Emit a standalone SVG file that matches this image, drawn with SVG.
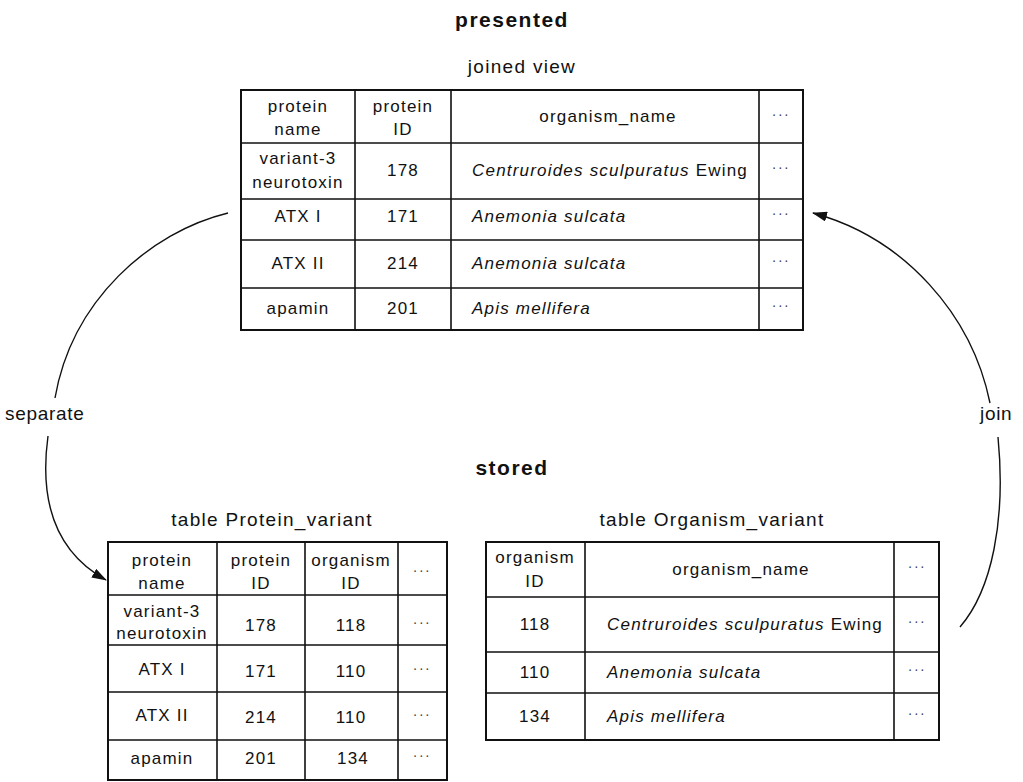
<svg xmlns="http://www.w3.org/2000/svg" width="1023" height="782" viewBox="0 0 1023 782">
  <defs>
    <marker id="arrow" viewBox="0 0 15 10" refX="14" refY="5" markerWidth="15" markerHeight="10" markerUnits="userSpaceOnUse" orient="auto">
      <path d="M0,0 L15,5 L0,10 Z" fill="#111"/>
    </marker>
    <style>
      text { font-family: "Liberation Sans", Arial, sans-serif; fill: #111; }
      .head { font-size: 21px; font-weight: bold; letter-spacing: 1.5px; text-anchor: middle; }
      .title { font-size: 19px; letter-spacing: 1.3px; text-anchor: middle; }
      .cell { font-size: 17px; letter-spacing: 1.2px; text-anchor: middle; }
      .sp { font-size: 17px; letter-spacing: 1.2px; text-anchor: start; }
      .it { font-style: italic; }
      .dots { font-size: 14px; letter-spacing: 1.5px; text-anchor: middle; fill: #444; }
      .label { font-size: 19px; letter-spacing: 0.7px; }
      .frame { fill: #fff; stroke: #111; stroke-width: 2; }
      .grid { stroke: #111; stroke-width: 1.6; fill: none; }
      .conn { fill: none; stroke: #111; stroke-width: 1.4; }
    </style>
  </defs>

  <rect width="1023" height="782" fill="#fff"/>

  <!-- section headings -->
  <text class="head" x="512" y="27">presented</text>
  <text class="head" x="512" y="475">stored</text>

  <!-- joined view -->
  <g id="joined-view">
    <text class="title" x="522" y="73">joined view</text>
    <rect class="frame" x="241" y="90" width="562" height="240"/>
    <path class="grid" d="M355,90 V330 M451,90 V330 M759,90 V330 M241,143 H803 M241,199 H803 M241,240 H803 M241,288 H803"/>
    <text class="cell" x="298" y="112">protein</text>
    <text class="cell" x="298" y="135">name</text>
    <text class="cell" x="403" y="112">protein</text>
    <text class="cell" x="403" y="135">ID</text>
    <text class="cell" x="608" y="122">organism_name</text>
    <text class="dots" x="781" y="119">···</text>

    <text class="cell" x="298" y="164">variant-3</text>
    <text class="cell" x="298" y="188">neurotoxin</text>
    <text class="cell" x="403" y="176">178</text>
    <text class="sp" x="472" y="176"><tspan class="it">Centruroides sculpuratus</tspan> Ewing</text>
    <text class="dots" x="781" y="172">···</text>

    <text class="cell" x="298" y="222">ATX I</text>
    <text class="cell" x="403" y="222">171</text>
    <text class="sp it" x="472" y="222">Anemonia sulcata</text>
    <text class="dots" x="781" y="218">···</text>

    <text class="cell" x="298" y="269">ATX II</text>
    <text class="cell" x="403" y="269">214</text>
    <text class="sp it" x="472" y="269">Anemonia sulcata</text>
    <text class="dots" x="781" y="265">···</text>

    <text class="cell" x="298" y="314">apamin</text>
    <text class="cell" x="403" y="314">201</text>
    <text class="sp it" x="472" y="314">Apis mellifera</text>
    <text class="dots" x="781" y="310">···</text>
  </g>

  <!-- table Protein_variant -->
  <g id="protein-variant">
    <text class="title" x="272" y="526">table Protein_variant</text>
    <rect class="frame" x="108" y="542" width="339" height="238"/>
    <path class="grid" d="M217,542 V780 M305,542 V780 M398,542 V780 M108,595 H447 M108,645 H447 M108,692 H447 M108,740 H447"/>
    <text class="cell" x="162" y="566">protein</text>
    <text class="cell" x="162" y="589">name</text>
    <text class="cell" x="261" y="566">protein</text>
    <text class="cell" x="261" y="589">ID</text>
    <text class="cell" x="351" y="566">organism</text>
    <text class="cell" x="351" y="589">ID</text>
    <text class="dots" x="422" y="575">···</text>

    <text class="cell" x="162" y="617">variant-3</text>
    <text class="cell" x="162" y="639">neurotoxin</text>
    <text class="cell" x="261" y="631">178</text>
    <text class="cell" x="351" y="631">118</text>
    <text class="dots" x="422" y="627">···</text>

    <text class="cell" x="162" y="675">ATX I</text>
    <text class="cell" x="261" y="677">171</text>
    <text class="cell" x="351" y="677">110</text>
    <text class="dots" x="422" y="673">···</text>

    <text class="cell" x="162" y="721">ATX II</text>
    <text class="cell" x="261" y="723">214</text>
    <text class="cell" x="351" y="723">110</text>
    <text class="dots" x="422" y="719">···</text>

    <text class="cell" x="162" y="764">apamin</text>
    <text class="cell" x="261" y="764">201</text>
    <text class="cell" x="353" y="764">134</text>
    <text class="dots" x="422" y="760">···</text>
  </g>

  <!-- table Organism_variant -->
  <g id="organism-variant">
    <text class="title" x="712" y="526">table Organism_variant</text>
    <rect class="frame" x="486" y="542" width="453" height="198"/>
    <path class="grid" d="M585,542 V740 M894,542 V740 M486,597 H939 M486,652 H939 M486,693 H939"/>
    <text class="cell" x="535" y="563">organism</text>
    <text class="cell" x="535" y="587">ID</text>
    <text class="cell" x="741" y="575">organism_name</text>
    <text class="dots" x="917" y="571">···</text>

    <text class="cell" x="535" y="630">118</text>
    <text class="sp" x="607" y="630"><tspan class="it">Centruroides sculpuratus</tspan> Ewing</text>
    <text class="dots" x="917" y="626">···</text>

    <text class="cell" x="535" y="678">110</text>
    <text class="sp it" x="607" y="678">Anemonia sulcata</text>
    <text class="dots" x="917" y="674">···</text>

    <text class="cell" x="535" y="722">134</text>
    <text class="sp it" x="607" y="722">Apis mellifera</text>
    <text class="dots" x="917" y="718">···</text>
  </g>

  <!-- separate / join connectors -->
  <g id="connectors">
    <path class="conn" d="M228,213 C150,232 72,300 55,398"/>
    <path class="conn" d="M48,436 C40,495 52,550 106,580" marker-end="url(#arrow)"/>
    <path class="conn" d="M990,403 C972,315 905,238 813,213" marker-end="url(#arrow)"/>
    <path class="conn" d="M998,437 C1006,520 992,590 960,627"/>
    <text class="label" x="5" y="420">separate</text>
    <text class="label" x="980" y="420">join</text>
  </g>
</svg>
